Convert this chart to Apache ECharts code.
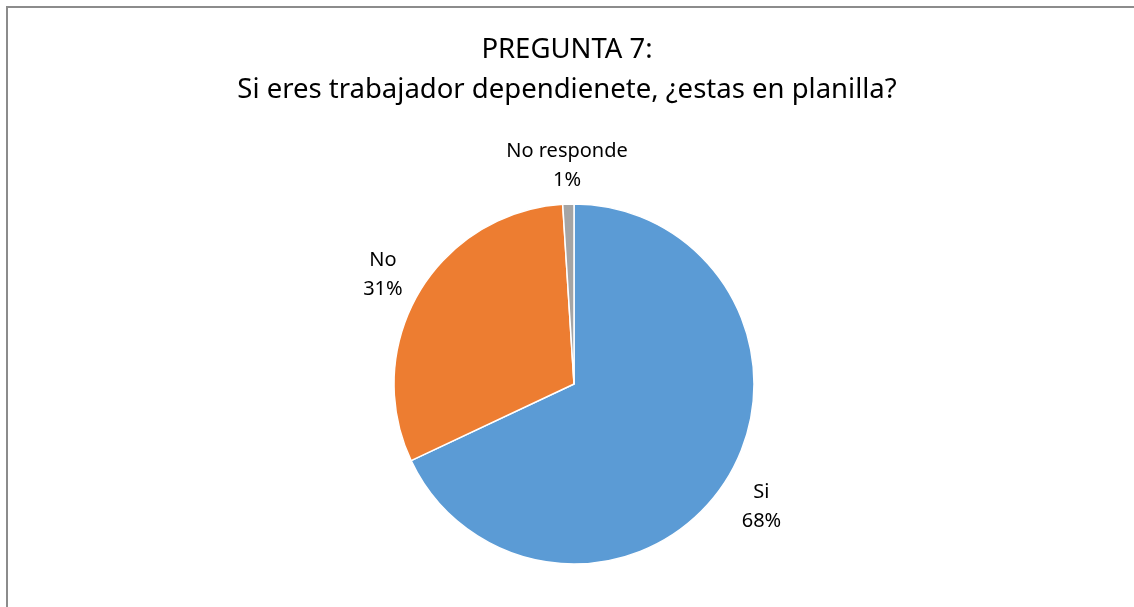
<!DOCTYPE html>
<html>
<head>
<meta charset="utf-8">
<title>Pregunta 7</title>
<script src="https://cdn.jsdelivr.net/npm/echarts@6/dist/echarts.min.js"></script>
<style>
  html, body { margin: 0; padding: 0; background: #fff; }
  #chart { width: 1134px; height: 607px; }
</style>
</head>
<body>
<div id="chart"></div>
<script>
// datos de la pregunta 7
const categories = ['Si', 'No', 'No responde']
const values = [68, 31, 1]
const colors = ['#5B9BD5', '#ED7D31', '#A5A5A5']

const center = [574, 384]
const radius = 180
const labelRadius = 222

const total = values.reduce((a, b) => a + b, 0)
// angulo medio de cada sector (horario desde las 12)
const midAngles = []
let acc = 0
values.forEach((v) => {
  midAngles.push((acc + v / 2) / total * Math.PI * 2)
  acc += v
})

const chart = echarts.init(document.getElementById('chart'))
const option = {
  animation: false,
  textStyle: { fontFamily: 'Noto Sans' },
  title: {
    text: 'PREGUNTA 7:\nSi eres trabajador dependienete, ¿estas en planilla?',
    left: 'center',
    top: 25,
    textStyle: {
      color: '#000',
      fontSize: 27.5,
      fontWeight: 'normal',
      lineHeight: 40
    }
  },
  graphic: [
    {
      type: 'rect',
      shape: { x: 7, y: 7, width: 1140, height: 620 },
      style: { fill: 'none', stroke: '#8c8c8c', lineWidth: 2 },
      silent: true
    }
  ],
  series: [
    {
      type: 'pie',
      center: center,
      radius: radius,
      startAngle: 90,
      clockwise: true,
      data: categories.map((name, i) => ({
        name: name,
        value: values[i],
        itemStyle: { color: colors[i] }
      })),
      itemStyle: { borderColor: '#fff', borderWidth: 1.5 },
      label: {
        show: true,
        position: 'outside',
        formatter: (p) => p.name + '\n' + Math.round(p.percent) + '%',
        color: '#000',
        fontSize: 20,
        lineHeight: 29,
        align: 'center'
      },
      labelLine: { show: false },
      labelLayout: (params) => {
        const a = midAngles[params.dataIndex]
        return {
          x: center[0] + labelRadius * Math.sin(a),
          y: center[1] - labelRadius * Math.cos(a) + 4,
          align: 'center',
          verticalAlign: 'middle'
        }
      }
    }
  ]
}
chart.setOption(option)
</script>
</body>
</html>
